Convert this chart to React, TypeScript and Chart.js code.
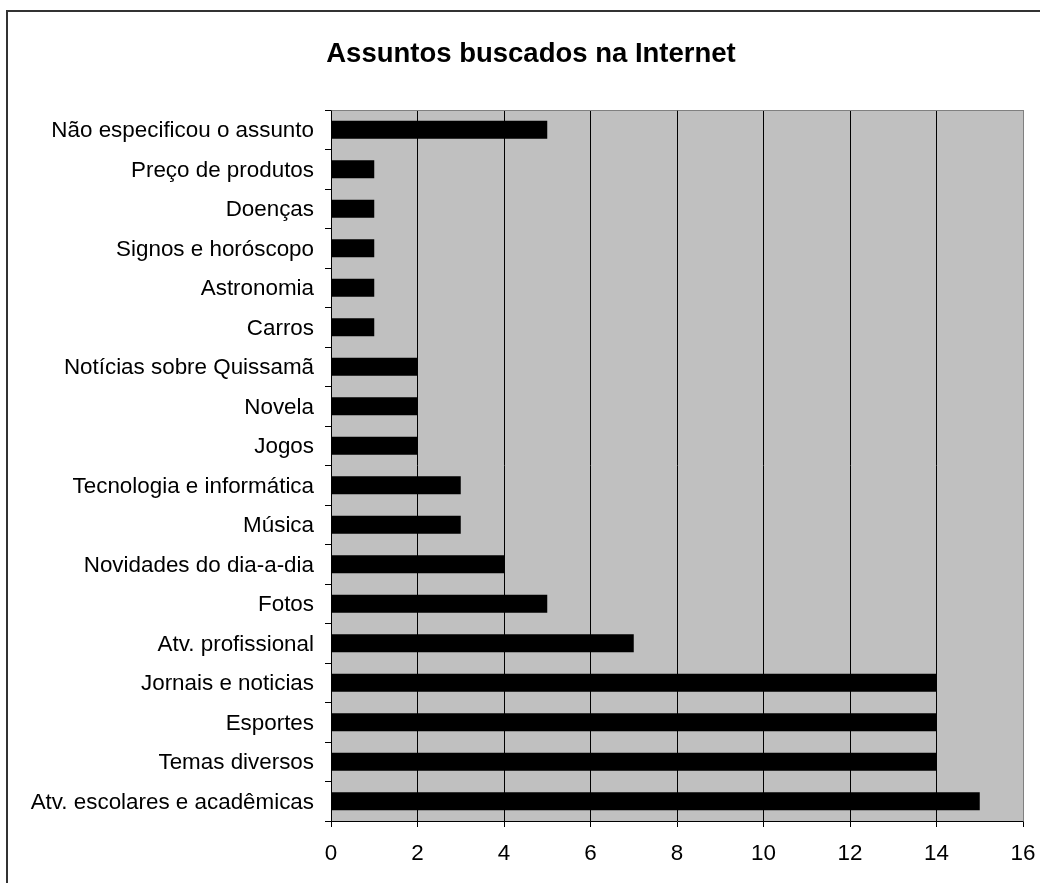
import React, { useEffect, useRef } from "react";
import { Chart, registerables } from "chart.js";

Chart.register(...registerables);

const TITLE = "Assuntos buscados na Internet";

const categories: string[] = [
  "Não especificou o assunto",
  "Preço de produtos",
  "Doenças",
  "Signos e horóscopo",
  "Astronomia",
  "Carros",
  "Notícias sobre Quissamã",
  "Novela",
  "Jogos",
  "Tecnologia e informática",
  "Música",
  "Novidades do dia-a-dia",
  "Fotos",
  "Atv. profissional",
  "Jornais e noticias",
  "Esportes",
  "Temas diversos",
  "Atv. escolares e acadêmicas",
];

const counts: number[] = [5, 1, 1, 1, 1, 1, 2, 2, 2, 3, 3, 4, 5, 7, 14, 14, 14, 15];

const xTicks: number[] = [0, 2, 4, 6, 8, 10, 12, 14, 16];

const FONT = "'Liberation Sans', Arial, sans-serif";

// Page frame, title, grey plot background and grey top/right plot edges.
const decorations = {
  id: "decorations",
  beforeDraw(chart: Chart) {
    const { ctx, chartArea } = chart;
    ctx.save();
    ctx.fillStyle = "#ffffff";
    ctx.fillRect(0, 0, chart.width, chart.height);
    ctx.strokeStyle = "#333333";
    ctx.lineWidth = 2;
    ctx.strokeRect(7, 11, 1200, 1200);
    ctx.fillStyle = "#C0C0C0";
    ctx.fillRect(
      chartArea.left,
      chartArea.top,
      chartArea.right - chartArea.left,
      chartArea.bottom - chartArea.top
    );
    ctx.fillStyle = "#000000";
    ctx.font = `bold 27.5px ${FONT}`;
    ctx.textAlign = "center";
    ctx.textBaseline = "alphabetic";
    ctx.fillText(TITLE, 531, 62);
    ctx.restore();
  },
  afterDraw(chart: Chart) {
    const { ctx, chartArea } = chart;
    ctx.save();
    ctx.strokeStyle = "#808080";
    ctx.lineWidth = 1;
    ctx.beginPath();
    ctx.moveTo(Math.round(chartArea.left) + 0.5, Math.round(chartArea.top) + 0.5);
    ctx.lineTo(Math.round(chartArea.right) + 0.5, Math.round(chartArea.top) + 0.5);
    ctx.lineTo(Math.round(chartArea.right) + 0.5, Math.round(chartArea.bottom) + 0.5);
    ctx.stroke();
    ctx.restore();
  },
};

export default function App() {
  const canvasRef = useRef<HTMLCanvasElement | null>(null);

  useEffect(() => {
    const canvas = canvasRef.current;
    if (!canvas) return;
    const chart = new Chart(canvas, {
      type: "bar",
      data: {
        labels: categories,
        datasets: [
          {
            data: counts,
            backgroundColor: "#000000",
            borderWidth: 0,
            barPercentage: 0.4545,
            categoryPercentage: 1,
          },
        ],
      },
      options: {
        indexAxis: "y",
        responsive: false,
        animation: false,
        devicePixelRatio: 1,
        layout: { padding: { left: 0, right: 17, top: 110, bottom: 0 } },
        plugins: {
          legend: { display: false },
          title: { display: false },
          tooltip: { enabled: false },
        },
        scales: {
          x: {
            type: "linear",
            position: "bottom",
            min: 0,
            max: 16,
            afterBuildTicks: (scale: any) => {
              scale.ticks = xTicks.map((v) => ({ value: v }));
            },
            afterFit: (scale: any) => {
              scale.height = 62;
              scale.paddingLeft = 0;
              scale.paddingRight = 0;
            },
            grid: {
              color: (c: any) => (c.tick && c.tick.value === 16 ? "#808080" : "#000000"),
              tickColor: "#000000",
              lineWidth: 1,
              drawTicks: true,
              tickLength: 6,
            },
            border: { display: true, color: "#000000", width: 1 },
            ticks: {
              color: "#000000",
              font: { family: FONT, size: 22.4 },
              padding: 13,
              maxRotation: 0,
              autoSkip: false,
            },
          },
          y: {
            type: "category",
            position: "left",
            afterFit: (scale: any) => {
              scale.width = 331;
              scale.paddingTop = 0;
              scale.paddingBottom = 0;
            },
            grid: {
              offset: true,
              drawOnChartArea: false,
              drawTicks: true,
              tickLength: 6,
              color: "#000000",
              tickColor: "#000000",
            },
            border: { display: true, color: "#000000", width: 1 },
            ticks: {
              color: "#000000",
              font: { family: FONT, size: 22.4 },
              padding: 11,
              labelOffset: 1.5,
              autoSkip: false,
            },
          },
        },
      },
      plugins: [decorations],
    });
    return () => chart.destroy();
  }, []);

  return (
    <div style={{ position: "absolute", left: 0, top: 0, width: 1040, height: 883 }}>
      <canvas ref={canvasRef} width={1040} height={883} />
    </div>
  );
}
